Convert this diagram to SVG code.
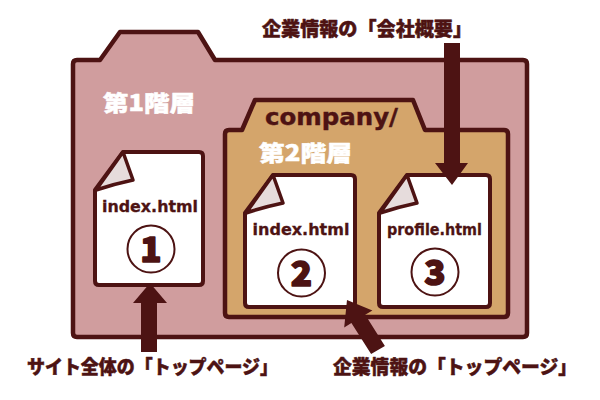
<svg xmlns="http://www.w3.org/2000/svg" width="600" height="400" viewBox="0 0 600 400">
  <style>
    .ln{stroke:#4d1313;stroke-width:4.5;stroke-linejoin:round}
    .doc{fill:#ffffff;stroke:#4d1313;stroke-width:4;stroke-linejoin:round}
    .flap{fill:#e6dcdc;stroke:#4d1313;stroke-width:3.5;stroke-linejoin:round}
    .fname{font-family:"DejaVu Sans",Verdana,sans-serif;font-weight:bold;font-size:16px;fill:#4d1313;stroke:#4d1313;stroke-width:0.3;text-anchor:middle}
    .num{fill:none;stroke:#4d1313;stroke-width:2}
    .digit{font-family:"Noto Sans CJK JP","Liberation Sans",sans-serif;font-weight:900;font-size:35px;fill:#4d1313;stroke:#4d1313;stroke-width:1.6;stroke-linejoin:round;text-anchor:middle}
    .head{font-family:"Noto Sans CJK JP","Noto Sans",sans-serif;font-weight:900;font-size:22px;fill:#ffffff;stroke:#ffffff;stroke-width:0.5;stroke-linejoin:round}
    .lab{font-family:"Noto Sans CJK JP","Noto Sans",sans-serif;font-weight:900;font-size:19px;fill:#4d1313;stroke:#4d1313;stroke-width:0.5;stroke-linejoin:round}
    .arr{fill:#4d1313}
  </style>
  <rect width="600" height="400" fill="#ffffff"/>

  <g id="folder1">
    <path class="ln" fill="#d09d9e" d="M77,60 H100 L120,32 H198 L215,60 H523 Q527,60 527,64 V333 Q527,337 523,337 H77 Q73,337 73,333 V64 Q73,60 77,60 Z"/>
    <text class="head" x="103" y="111" textLength="92" lengthAdjust="spacingAndGlyphs">第1階層</text>
  </g>

  <g id="folder2">
    <path class="ln" fill="#d4a56b" d="M229,130 H242 L255,100 H413 L425,130 H504 Q508,130 508,134 V313 Q508,317 504,317 H229 Q225,317 225,313 V134 Q225,130 229,130 Z"/>
    <text x="265" y="125" font-family="'DejaVu Sans',Verdana,sans-serif" font-weight="bold" font-size="23" fill="#4d1313" stroke="#4d1313" stroke-width="0.4" textLength="133" lengthAdjust="spacingAndGlyphs">company/</text>
    <text class="head" x="259" y="161" textLength="93" lengthAdjust="spacingAndGlyphs">第2階層</text>
  </g>

  <g id="doc1">
    <path class="doc" d="M123,152 H199 Q203,152 203,156 V281 Q203,285 199,285 H99 Q95,285 95,281 V190 Z"/>
    <path class="flap" d="M123,152 L133,180 Q114,184 96,190 Z"/>
    <text class="fname" x="150" y="212" textLength="96" lengthAdjust="spacingAndGlyphs">index.html</text>
    <circle class="num" cx="151" cy="249" r="23.5"/>
    <text class="digit" x="151" y="261.5">1</text>
  </g>

  <g id="doc2">
    <path class="doc" d="M273,175 H351 Q355,175 355,179 V303 Q355,307 351,307 H249 Q245,307 245,303 V213 Z"/>
    <path class="flap" d="M273,175 L283,203 Q264,207 246,213 Z"/>
    <text class="fname" x="301" y="235" textLength="97" lengthAdjust="spacingAndGlyphs">index.html</text>
    <circle class="num" cx="301.5" cy="273" r="23.5"/>
    <text class="digit" x="301.5" y="285.5">2</text>
  </g>

  <g id="doc3">
    <path class="doc" d="M407,175 H486 Q490,175 490,179 V303 Q490,307 486,307 H383 Q379,307 379,303 V213 Z"/>
    <path class="flap" d="M407,175 L417,203 Q398,207 380,213 Z"/>
    <text class="fname" x="434.5" y="235" textLength="95" lengthAdjust="spacingAndGlyphs">profile.html</text>
    <circle class="num" cx="435" cy="272" r="23.5"/>
    <text class="digit" x="435" y="284.5">3</text>
  </g>

  <g id="connectors">
    <polygon class="arr" points="444,43 460,43 460,163 468,163 452,185 435,163 444,163"/>
    <polygon class="arr" points="141,352 157,352 157,303 167,303 150,283 133,303 141,303"/>
    <polygon class="arr" points="384.9,345.9 371.1,354.1 351.4,323.0 344.2,327.4 347,300 372.4,310.4 365.2,314.8"/>
  </g>

  <g id="labels">
    <text class="lab" x="262" y="36" textLength="210" lengthAdjust="spacingAndGlyphs">企業情報の「会社概要」</text>
    <text class="lab" x="27" y="374" textLength="251" lengthAdjust="spacingAndGlyphs">サイト全体の「トップページ」</text>
    <text class="lab" x="333" y="374" textLength="244" lengthAdjust="spacingAndGlyphs">企業情報の「トップページ」</text>
  </g>
</svg>
